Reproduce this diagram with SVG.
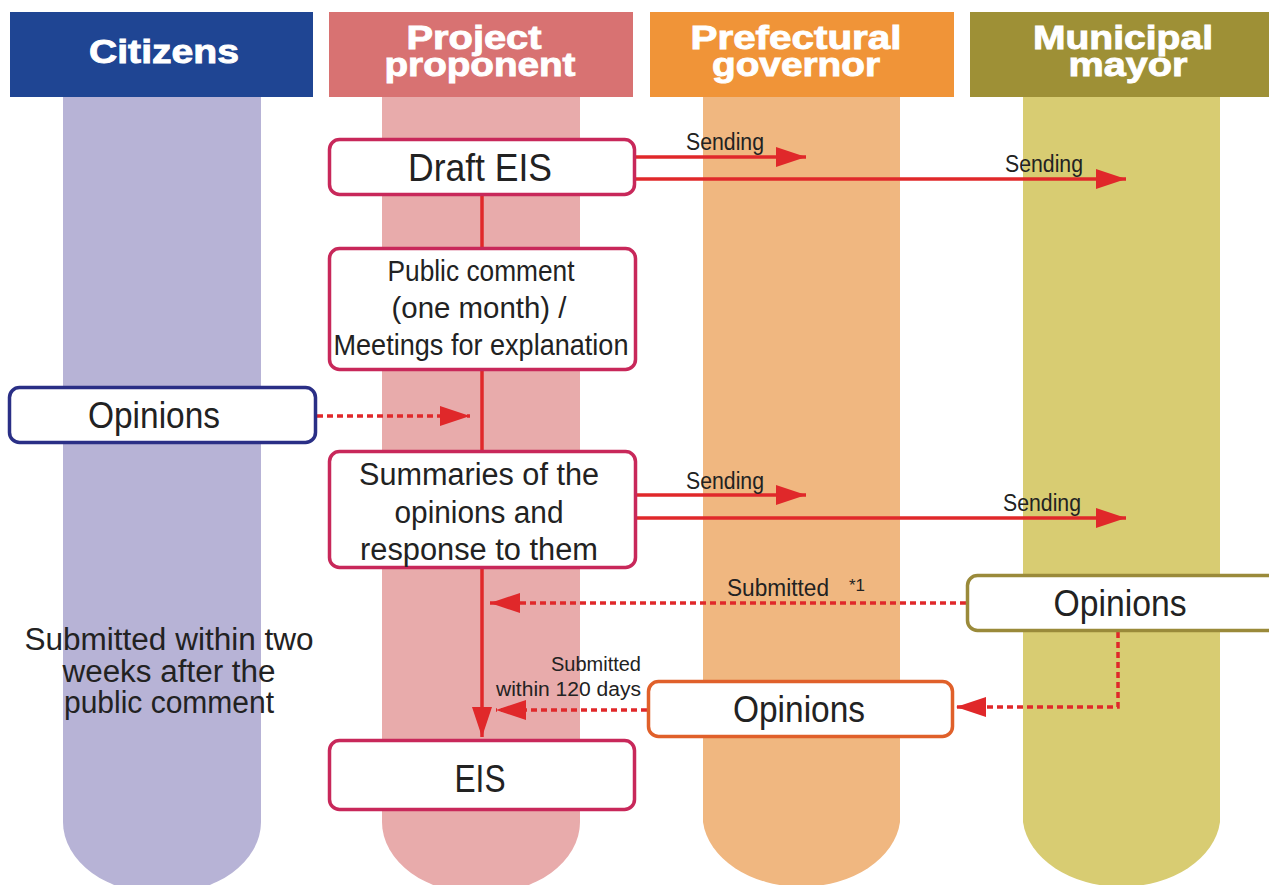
<svg xmlns="http://www.w3.org/2000/svg" width="1269" height="885" viewBox="0 0 1269 885">
<defs>
<style>
.hdr{font-family:"Liberation Sans",Arial,sans-serif;font-weight:bold;font-size:33px;fill:#fff;stroke:#fff;stroke-width:0.9;text-anchor:middle}
.t{font-family:"Liberation Sans Narrow","Liberation Sans",Arial,sans-serif;fill:#222;text-anchor:middle}
.box{fill:#fff;stroke-width:3.5}
.sol{stroke:#e0282a;stroke-width:3.5;fill:none}
.dot{stroke:#e0282a;stroke-width:3.5;fill:none;stroke-dasharray:6 4}
</style>
<marker id="ah" markerUnits="userSpaceOnUse" markerWidth="32" markerHeight="24" refX="30" refY="12" orient="auto"><path d="M0,2 L30,12 L0,22 Z" fill="#e0282a"/></marker>
</defs>
<g id="lanes">
<path d="M63,97 V822 A99,72 0 0 0 261,822 V97 Z" fill="#b7b3d6"/>
<path d="M382,97 V822 A99,72 0 0 0 580,822 V97 Z" fill="#e8abab"/>
<path d="M703,97 V822 A99,72 0 0 0 900,822 V97 Z" fill="#f0b780"/>
<path d="M1023,97 V822 A99,72 0 0 0 1220,822 V97 Z" fill="#d8cc72"/>
</g>
<g id="hdr-citizens"><rect x="10" y="12" width="303" height="85" fill="#1f4593"/><text class="hdr" x="164" y="63" textLength="150" lengthAdjust="spacingAndGlyphs">Citizens</text></g>
<g id="hdr-proponent"><rect x="329" y="12" width="304" height="85" fill="#d87272"/><text class="hdr" x="474" y="49" textLength="135" lengthAdjust="spacingAndGlyphs">Project</text><text class="hdr" x="480" y="76" textLength="191" lengthAdjust="spacingAndGlyphs">proponent</text></g>
<g id="hdr-governor"><rect x="650" y="12" width="304" height="85" fill="#f09438"/><text class="hdr" x="796" y="49" textLength="211" lengthAdjust="spacingAndGlyphs">Prefectural</text><text class="hdr" x="796" y="76" textLength="168" lengthAdjust="spacingAndGlyphs">governor</text></g>
<g id="hdr-mayor"><rect x="970" y="12" width="299" height="85" fill="#9e9036"/><text class="hdr" x="1123" y="49" textLength="180" lengthAdjust="spacingAndGlyphs">Municipal</text><text class="hdr" x="1128" y="76" textLength="119" lengthAdjust="spacingAndGlyphs">mayor</text></g>
<text class="t" x="169" y="650" font-size="31" textLength="289" lengthAdjust="spacingAndGlyphs">Submitted within two</text>
<text class="t" x="169" y="682" font-size="31" textLength="213" lengthAdjust="spacingAndGlyphs">weeks after the</text>
<text class="t" x="169" y="713" font-size="31" textLength="210" lengthAdjust="spacingAndGlyphs">public comment</text>
<g id="connectors">
<line class="sol" x1="482" y1="194" x2="482" y2="248"/>
<line class="sol" x1="482" y1="370" x2="482" y2="451"/>
<line class="sol" x1="482" y1="568" x2="482" y2="737" marker-end="url(#ah)"/>
<line class="sol" x1="635" y1="157" x2="806" y2="157" marker-end="url(#ah)"/>
<line class="sol" x1="635" y1="179" x2="1126" y2="179" marker-end="url(#ah)"/>
<line class="sol" x1="636" y1="495" x2="806" y2="495" marker-end="url(#ah)"/>
<line class="sol" x1="636" y1="518" x2="1126" y2="518" marker-end="url(#ah)"/>
<line class="dot" x1="317" y1="416" x2="470" y2="416" marker-end="url(#ah)"/>
<line class="dot" x1="966" y1="603" x2="490" y2="603" marker-end="url(#ah)"/>
<polyline class="dot" points="1118,632 1118,707 956,707" marker-end="url(#ah)"/>
<line class="dot" x1="647" y1="710" x2="496" y2="710" marker-end="url(#ah)"/>
<text class="t" x="725" y="150" font-size="23" textLength="78" lengthAdjust="spacingAndGlyphs">Sending</text>
<text class="t" x="1044" y="172" font-size="23" textLength="78" lengthAdjust="spacingAndGlyphs">Sending</text>
<text class="t" x="725" y="489" font-size="23" textLength="78" lengthAdjust="spacingAndGlyphs">Sending</text>
<text class="t" x="1042" y="511" font-size="23" textLength="78" lengthAdjust="spacingAndGlyphs">Sending</text>
<text class="t" x="778" y="596" font-size="23" textLength="102" lengthAdjust="spacingAndGlyphs">Submitted</text>
<text class="t" x="857" y="591" font-size="16" textLength="16" lengthAdjust="spacingAndGlyphs">*1</text>
<text class="t" x="641" y="671" font-size="20" style="text-anchor:end" textLength="90" lengthAdjust="spacingAndGlyphs">Submitted</text>
<text class="t" x="641" y="696" font-size="20" style="text-anchor:end" textLength="145" lengthAdjust="spacingAndGlyphs">within 120 days</text>
</g>
<g id="n-draft"><rect class="box" x="329.5" y="139.5" width="305" height="55" rx="10" stroke="#c8285a"/><text class="t" x="480" y="181" font-size="38" textLength="144" lengthAdjust="spacingAndGlyphs">Draft EIS</text></g>
<g id="n-public"><rect class="box" x="329.5" y="248.5" width="306" height="121" rx="10" stroke="#c8285a"/>
<text class="t" x="481" y="281" font-size="29" textLength="187" lengthAdjust="spacingAndGlyphs">Public comment</text>
<text class="t" x="479" y="318" font-size="29" textLength="175" lengthAdjust="spacingAndGlyphs">(one month) /</text>
<text class="t" x="481" y="355" font-size="29" textLength="295" lengthAdjust="spacingAndGlyphs">Meetings for explanation</text></g>
<g id="n-cit-opinions"><rect class="box" x="9.5" y="387.5" width="306" height="55" rx="10" stroke="#2a2f86"/><text class="t" x="154" y="428" font-size="37" textLength="132" lengthAdjust="spacingAndGlyphs">Opinions</text></g>
<g id="n-summaries"><rect class="box" x="329.5" y="451.5" width="306" height="116" rx="10" stroke="#c8285a"/>
<text class="t" x="479" y="485" font-size="31" textLength="240" lengthAdjust="spacingAndGlyphs">Summaries of the</text>
<text class="t" x="479" y="523" font-size="31" textLength="169" lengthAdjust="spacingAndGlyphs">opinions and</text>
<text class="t" x="479" y="560" font-size="31" textLength="238" lengthAdjust="spacingAndGlyphs">response to them</text></g>
<g id="n-mayor-opinions"><rect class="box" x="967.5" y="575.5" width="310" height="55" rx="10" stroke="#9a8a3a"/><text class="t" x="1120" y="616" font-size="37" textLength="133" lengthAdjust="spacingAndGlyphs">Opinions</text></g>
<g id="n-gov-opinions"><rect class="box" x="648.5" y="681.5" width="304" height="55" rx="10" stroke="#e0602a"/><text class="t" x="799" y="722" font-size="37" textLength="132" lengthAdjust="spacingAndGlyphs">Opinions</text></g>
<g id="n-eis"><rect class="box" x="329.5" y="740.5" width="305" height="69" rx="10" stroke="#c8285a"/><text class="t" x="480" y="792" font-size="38" textLength="51" lengthAdjust="spacingAndGlyphs">EIS</text></g>
</svg>
